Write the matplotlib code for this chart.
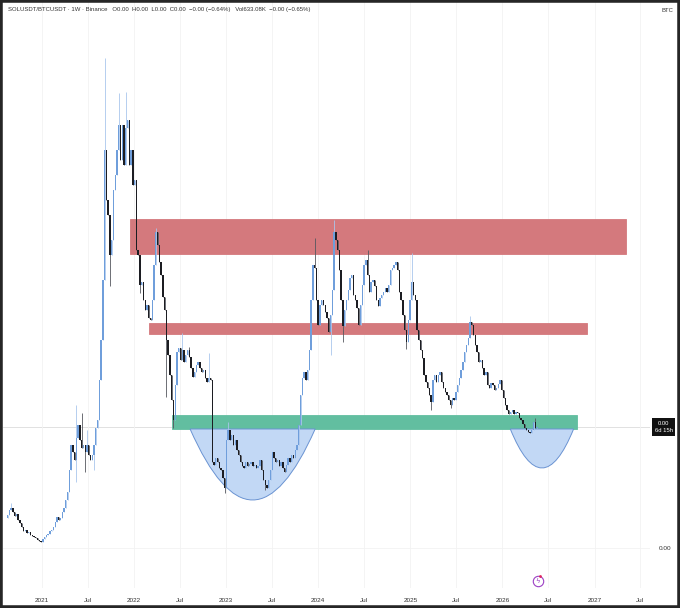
import datetime as dt
import numpy as np
import matplotlib
matplotlib.use('Agg')
import matplotlib.pyplot as plt
import matplotlib.dates as mdates
import matplotlib.transforms as mtrans
from matplotlib.path import Path
from matplotlib.patches import PathPatch, Rectangle

# weekly SOL/BTC closes, in units of 1e-5 BTC
SCALE = 1e-5
first_week = dt.date(2020, 8, 17)
first_open = 30
closes = [
    33, 38, 40, 36, 32, 34, 28, 25, 21, 17, 18, 15, 16, 13, 12, 11, 10, 8, 7, 6,
    9, 11, 13, 14, 17, 18, 21, 26, 31, 28, 30, 36, 40, 48, 56, 78, 103, 96, 88, 110,
    123, 108, 100, 103, 96, 103, 93, 88, 93, 103, 120, 128,
    168, 208, 268, 398, 348, 333, 293, 308, 358, 373, 398, 423, 388, 423, 383, 420, 428, 383,
    398, 363, 368, 298, 293, 263, 266, 248, 238, 243, 230, 228, 248, 283, 316, 303,
    286, 273, 251, 238, 208, 193, 173, 148, 128,
    163, 196, 200, 188, 198, 186, 193, 198, 191, 180, 171, 176, 183, 186, 180, 176,
    178, 170, 166, 170, 168, 86, 83, 90, 86, 80, 78, 70, 60,
    108, 118, 108, 113, 103, 108, 98, 93, 86, 82, 80, 86, 82, 84, 86, 82, 83, 80, 82, 88,
    78, 68, 63, 60, 68, 78, 96, 90, 86, 88, 82, 86, 80, 76, 83, 90, 86, 93, 90, 98,
    103, 123, 153, 170, 176, 168, 178, 198,
    248, 283, 280, 248, 223, 243, 248, 243, 236, 230, 216, 233, 258, 316, 308, 298,
    278, 248, 222, 238, 248, 258, 270, 273, 253, 248, 240, 223, 243, 263, 283, 288,
    273, 256, 266, 268, 262, 248, 242, 250, 253, 256, 260, 256, 263, 278, 280, 283,
    286, 278, 256, 248, 233, 218, 206, 228, 248, 266, 253, 248, 218, 208, 198, 190,
    173, 166, 160, 153, 146,
    168, 173, 166, 173, 176, 166, 160, 156, 153, 148, 143, 150, 148, 156, 163, 170,
    178, 186, 196, 203, 210, 226, 223, 213, 203, 196, 186, 188, 180, 173, 176, 163,
    160, 165, 163, 158, 160, 164, 168, 158, 150, 143, 138, 134, 136, 138, 134, 136,
    135, 130, 128, 124, 120, 118, 116, 115, 118, 126, 120, 121,
]
# visible wicks (week index -> value)
highs = {2: 45, 39: 143, 42: 135, 45: 118, 55: 490, 63: 455, 67: 456, 84: 320,
         99: 215, 103: 201, 114: 195, 125: 126, 174: 310, 185: 328, 204: 298,
         229: 295, 262: 232, 299: 130}
lows = {39: 66, 44: 76, 49: 78, 58: 262, 75: 255, 90: 151, 94: 120, 123: 55,
        146: 58, 183: 193, 190: 206, 226: 199, 240: 138, 251: 140}

# drawn zones: start, end, low, high, colour
zones = [
    ('2021-12-16', '2027-05-04', 294, 329, '#d4797d'),
    ('2022-03-01', '2026-12-04', 214, 225, '#d4797d'),
    ('2022-06-01', '2026-10-22', 119, 133, '#62bea0'),
]
# cup shapes: start, end, rim, bottom
bowls = [
    ('2022-08-11', '2023-12-20', 119, 48),
    ('2026-02-01', '2026-10-10', 119, 80),
]
tick_dates = ['2021-01-01', '2021-07-01', '2022-01-01', '2022-07-01', '2023-01-01',
              '2023-07-01', '2024-01-01', '2024-07-01', '2025-01-01', '2025-07-01',
              '2026-01-01', '2026-07-01', '2027-01-01', '2027-07-01']
tick_labels = ['2021', 'Jul', '2022', 'Jul', '2023', 'Jul', '2024', 'Jul', '2025',
               'Jul', '2026', 'Jul', '2027', 'Jul']


def dnum(s):
    return mdates.date2num(dt.date.fromisoformat(s))


plt.rcParams['font.family'] = ['Liberation Sans', 'DejaVu Sans']
fig = plt.figure(figsize=(6.8, 6.08), dpi=100)
ax = fig.add_axes([3 / 680, 20 / 608, 647 / 680, 586 / 608])
ax.set_axisbelow(True)

dates = mdates.date2num([first_week + dt.timedelta(weeks=i) for i in range(len(closes))])
c = np.array(closes, dtype=float)
o = np.concatenate([[first_open], c[:-1]])
hi = np.maximum(o, c)
lo = np.minimum(o, c)
for k, v in highs.items():
    hi[k] = v
for k, v in lows.items():
    lo[k] = v
up = c >= o
cols = np.where(up, '#6f9edb', '#1c1d22')
wick_cols = np.where(up, '#a9c6ec', '#55575e')

# zones and cups underneath the candles
for s, e, y0, y1, col in zones:
    ax.add_patch(Rectangle((dnum(s), y0 * SCALE), dnum(e) - dnum(s), (y1 - y0) * SCALE,
                           facecolor=col, edgecolor=col, lw=0.6, zorder=1))
for s, e, rim, bot in bowls:
    x0, x1 = dnum(s), dnum(e)
    verts = [(x0, rim * SCALE), ((x0 + x1) / 2, (2 * bot - rim) * SCALE),
             (x1, rim * SCALE), (x0, rim * SCALE)]
    path = Path(verts, [Path.MOVETO, Path.CURVE3, Path.CURVE3, Path.CLOSEPOLY])
    ax.add_patch(PathPatch(path, facecolor='#c2d8f5', edgecolor='#6a93d2', lw=0.7, zorder=1))

# candles
ax.vlines(dates, lo * SCALE, hi * SCALE, colors=wick_cols, lw=0.6, zorder=3)
ax.bar(dates, np.maximum(np.abs(c - o), 1.2) * SCALE, bottom=np.minimum(o, c) * SCALE,
       width=5.4, color=cols, lw=0, zorder=4)

# last price line
ax.axhline(c[-1] * SCALE, color='#dcdcdc', lw=0.6, zorder=0.5)

ax.set_xlim(dnum('2020-07-30'), dnum('2027-08-09'))
ax.set_ylim(-40 * SCALE, 546 * SCALE)
ax.set_xticks([dnum(d) for d in tick_dates])
ax.set_xticklabels(tick_labels)
ax.grid(axis='x', color='#f2f2f2', lw=0.6)
ax.axhline(0, color='#f2f2f2', lw=0.6, zorder=0.5)
for sp in ax.spines.values():
    sp.set_visible(False)
ax.tick_params(axis='x', length=0, labelsize=4.6, colors='#333333', pad=7)
ax.yaxis.tick_right()
ax.set_yticks([0])
ax.set_yticklabels(['0.00'])
ax.tick_params(axis='y', length=0, labelsize=4.6, colors='#333333', pad=6)

# price tag on the right axis
trans = mtrans.blended_transform_factory(ax.transAxes, ax.transData)
ax.text(1.021, c[-1] * SCALE, '0.00\n6d 15h', transform=trans, ha='center', va='center',
        fontsize=4.2, color='white', linespacing=1.5, clip_on=False,
        bbox=dict(boxstyle='square,pad=0.45', facecolor='#111111', edgecolor='none'))

# header
fig.text(8 / 680, 1 - 10 / 608,
         'SOLUSDT/BTCUSDT \u00b7 1W \u00b7 Binance   O0.00  H0.00  L0.00  C0.00  '
         '\u22120.00 (\u22120.64%)   Vol633.08K  \u22120.00 (\u22120.65%)',
         fontsize=4.3, color='#333333', va='center')
fig.text(661 / 680, 1 - 10 / 608, 'BTC', fontsize=4.3, color='#333333', va='center')

# lightning badge near the time axis
bx = dnum('2026-05-20')
ax.plot([bx], [-33 * SCALE], marker='o', ms=7.5, mfc='white', mec='#9b3fc4', mew=0.8,
        clip_on=False, zorder=5)
ax.text(bx, -33 * SCALE, '\u03df', color='#9b3fc4', fontsize=5, ha='center', va='center',
        family='DejaVu Sans', zorder=6, clip_on=False)
ax.plot([bx + 9], [-28 * SCALE], marker='o', ms=2, color='#e0245e', mec='none', zorder=7,
        clip_on=False)

# dark screenshot frame
fig.patches.append(Rectangle((0, 0), 1, 1, transform=fig.transFigure, fill=False,
                             edgecolor='#262626', lw=4, zorder=10))

fig.savefig('out.png', dpi=100)
